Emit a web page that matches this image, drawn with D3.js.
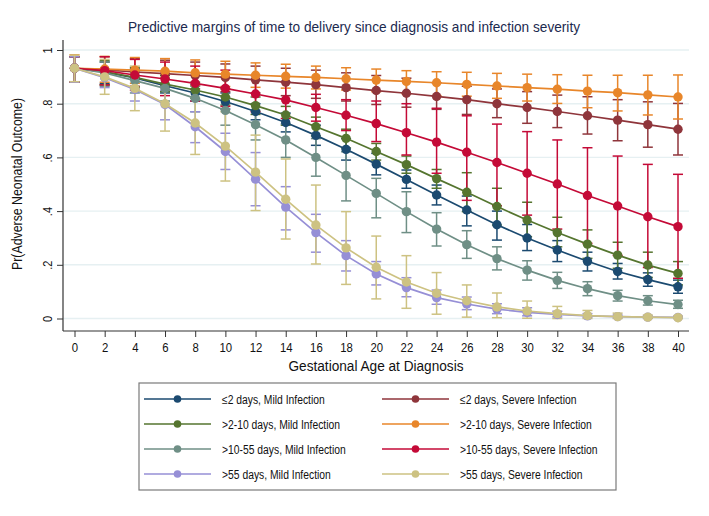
<!DOCTYPE html>
<html><head><meta charset="utf-8">
<script src="https://cdn.jsdelivr.net/npm/d3@7"></script>
<style>
html,body{margin:0;padding:0;background:#fff;}
svg{display:block;}
text{font-family:"Liberation Sans",Arial,Helvetica,sans-serif;}
</style></head>
<body>
<svg id="chart" width="709" height="516"></svg>
<script>
// ---------- DATA ----------
const gestAge = [0,2,4,6,8,10,12,14,16,18,20,22,24,26,28,30,32,34,36,38,40];
const yTickValues = [0,0.2,0.4,0.6,0.8,1];
const yTickLabels = ["0",".2",".4",".6",".8","1"];

// <=2 days, Mild Infection
const le2Mild   = [0.932,0.918,0.896,0.867,0.840,0.808,0.771,0.730,0.682,0.630,0.575,0.518,0.460,0.404,0.349,0.300,0.255,0.213,0.175,0.145,0.118];
const le2MildLo = [0.880,0.875,0.860,0.840,0.810,0.780,0.740,0.695,0.645,0.590,0.535,0.485,0.423,0.345,0.292,0.253,0.212,0.177,0.147,0.120,0.094];
const le2MildHi = [0.975,0.955,0.930,0.895,0.870,0.840,0.800,0.765,0.720,0.670,0.615,0.553,0.497,0.456,0.400,0.350,0.290,0.247,0.205,0.170,0.143];
// <=2 days, Severe Infection
const le2Sev    = [0.932,0.926,0.918,0.912,0.905,0.898,0.889,0.880,0.871,0.860,0.849,0.839,0.827,0.815,0.800,0.786,0.771,0.755,0.739,0.722,0.705];
const le2SevLo  = [0.880,0.870,0.865,0.860,0.855,0.845,0.840,0.830,0.820,0.810,0.797,0.787,0.779,0.760,0.748,0.727,0.711,0.687,0.662,0.638,0.609];
const le2SevHi  = [0.975,0.975,0.968,0.962,0.955,0.948,0.940,0.932,0.925,0.915,0.905,0.895,0.878,0.865,0.855,0.845,0.832,0.826,0.815,0.807,0.801];
// >2-10 days, Mild Infection
const d2to10Mild   = [0.932,0.919,0.898,0.873,0.851,0.825,0.793,0.758,0.714,0.671,0.622,0.573,0.521,0.470,0.417,0.367,0.320,0.277,0.236,0.199,0.168];
const d2to10MildLo = [0.880,0.870,0.860,0.845,0.820,0.795,0.760,0.720,0.680,0.635,0.590,0.541,0.485,0.398,0.348,0.305,0.267,0.224,0.187,0.153,0.125];
const d2to10MildHi = [0.975,0.960,0.935,0.905,0.880,0.855,0.825,0.790,0.750,0.705,0.652,0.605,0.555,0.543,0.485,0.433,0.377,0.330,0.284,0.247,0.212];
// >2-10 days, Severe Infection
const d2to10Sev   = [0.932,0.929,0.925,0.921,0.915,0.910,0.906,0.902,0.898,0.893,0.888,0.883,0.878,0.872,0.866,0.860,0.854,0.847,0.841,0.833,0.825];
const d2to10SevLo = [0.880,0.880,0.876,0.872,0.868,0.864,0.861,0.858,0.855,0.851,0.845,0.837,0.830,0.828,0.820,0.810,0.801,0.785,0.773,0.758,0.743];
const d2to10SevHi = [0.982,0.976,0.972,0.968,0.963,0.958,0.952,0.947,0.940,0.934,0.929,0.923,0.919,0.917,0.913,0.910,0.908,0.906,0.906,0.906,0.907];
// >10-55 days, Mild Infection
const d10to55Mild   = [0.932,0.915,0.886,0.857,0.820,0.775,0.722,0.665,0.600,0.533,0.466,0.398,0.333,0.275,0.223,0.180,0.142,0.111,0.085,0.066,0.052];
const d10to55MildLo = [0.880,0.865,0.840,0.810,0.770,0.720,0.665,0.600,0.530,0.438,0.375,0.320,0.270,0.224,0.181,0.143,0.112,0.085,0.065,0.050,0.038];
const d10to55MildHi = [0.975,0.955,0.925,0.895,0.865,0.825,0.775,0.725,0.670,0.621,0.522,0.472,0.394,0.327,0.267,0.215,0.172,0.137,0.105,0.085,0.068];
// >10-55 days, Severe Infection
const d10to55Sev   = [0.932,0.923,0.907,0.892,0.876,0.857,0.836,0.814,0.786,0.757,0.726,0.692,0.657,0.619,0.581,0.541,0.501,0.458,0.419,0.379,0.342];
const d10to55SevLo = [0.880,0.870,0.850,0.830,0.810,0.790,0.770,0.745,0.735,0.700,0.659,0.609,0.541,0.440,0.420,0.385,0.333,0.280,0.235,0.190,0.150];
const d10to55SevHi = [0.975,0.975,0.965,0.955,0.940,0.925,0.905,0.880,0.835,0.815,0.810,0.800,0.783,0.755,0.724,0.696,0.665,0.636,0.605,0.574,0.537];
// >55 days, Mild Infection
const gt55Mild   = [0.932,0.897,0.853,0.797,0.714,0.622,0.519,0.415,0.320,0.234,0.166,0.115,0.078,0.054,0.035,0.023,0.015,0.010,0.007,0.005,0.004];
const gt55MildLo = [0.880,0.860,0.810,0.740,0.655,0.555,0.420,0.330,0.247,0.177,0.125,0.081,0.053,0.033,0.018,0.010,0.006,0.004,0.002,0.001,0.001];
const gt55MildHi = [0.975,0.930,0.890,0.850,0.770,0.690,0.618,0.491,0.388,0.290,0.212,0.152,0.106,0.080,0.055,0.040,0.027,0.018,0.013,0.010,0.008];
// >55 days, Severe Infection
const gt55Sev   = [0.932,0.900,0.857,0.800,0.728,0.642,0.545,0.444,0.348,0.263,0.191,0.136,0.094,0.066,0.043,0.028,0.018,0.011,0.007,0.005,0.003];
const gt55SevLo = [0.882,0.835,0.774,0.698,0.611,0.512,0.402,0.296,0.203,0.127,0.073,0.038,0.016,0.005,0.003,0.001,0.000,0.000,0.000,0.000,0.000];
const gt55SevHi = [0.981,0.965,0.940,0.900,0.845,0.770,0.683,0.594,0.497,0.398,0.307,0.234,0.171,0.125,0.095,0.065,0.045,0.030,0.020,0.013,0.009];

const seriesNames = ["\u22642 days, Mild Infection","\u22642 days, Severe Infection",
  ">2-10 days, Mild Infection",">2-10 days, Severe Infection",
  ">10-55 days, Mild Infection",">10-55 days, Severe Infection",
  ">55 days, Mild Infection",">55 days, Severe Infection"];
const seriesColors = ["#1b4a70","#8f353b","#55752f","#e8862a","#6f8f86","#c40a37","#968fd6","#cdc282"];

const seriesVals = [le2Mild,le2Sev,d2to10Mild,d2to10Sev,d10to55Mild,d10to55Sev,gt55Mild,gt55Sev];
const seriesLo   = [le2MildLo,le2SevLo,d2to10MildLo,d2to10SevLo,d10to55MildLo,d10to55SevLo,gt55MildLo,gt55SevLo];
const seriesHi   = [le2MildHi,le2SevHi,d2to10MildHi,d2to10SevHi,d10to55MildHi,d10to55SevHi,gt55MildHi,gt55SevHi];

const series = seriesNames.map((name,i)=>({
  name, color: seriesColors[i],
  pts: gestAge.map((g,j)=>({x:g, v:seriesVals[i][j], lo:seriesLo[i][j], hi:seriesHi[i][j]}))
}));

// ---------- LAYOUT ----------
const svg = d3.select("#chart");
const x = d3.scaleLinear().domain([0,40]).range([74.5,678]);
const y = d3.scaleLinear().domain([0,1]).range([318.5,50]);
const plotLeft = 63, plotRight = 689, plotTop = 40, plotBottom = 331;
const NARROW = 0.84;
function narrow(sel, target){
  sel.each(function(){
    const w = this.getComputedTextLength();
    const t = target != null ? target : w*NARROW;
    d3.select(this).attr("textLength",t).attr("lengthAdjust","spacingAndGlyphs");
  });
}

// gridlines
svg.append("g").selectAll("line").data(yTickValues).join("line")
  .attr("x1",plotLeft).attr("x2",plotRight)
  .attr("y1",d=>y(d)).attr("y2",d=>y(d))
  .attr("stroke","#e6f0f2").attr("stroke-width",1.4);

// title
svg.append("text").attr("x",354).attr("y",32).attr("text-anchor","middle")
  .attr("font-size",14.5).attr("fill","#1c2a4f")
  .text("Predictive margins of time to delivery since diagnosis and infection severity")
  .call(narrow, 452);

// y axis
const yAxis = svg.append("g").attr("transform",`translate(${plotLeft},0)`)
  .call(d3.axisLeft(y).tickValues(yTickValues).tickFormat((d,i)=>yTickLabels[i]).tickSize(6).tickPadding(4));
yAxis.select(".domain").remove();
yAxis.selectAll(".tick line").attr("stroke","#333").attr("stroke-width",1);
yAxis.selectAll(".tick text").attr("font-size",13).attr("fill","#111")
  .attr("text-anchor","middle").attr("x",0).attr("dy",0)
  .attr("transform","translate(-16,0) rotate(-90)").attr("y",4.5)
  .call(narrow);
svg.append("line").attr("x1",plotLeft).attr("x2",plotLeft).attr("y1",plotTop).attr("y2",plotBottom)
  .attr("stroke","#333").attr("stroke-width",1.2);

// x axis
const xAxis = svg.append("g").attr("transform",`translate(0,${plotBottom})`)
  .call(d3.axisBottom(x).tickValues(gestAge).tickFormat(d3.format("d")).tickSize(6).tickPadding(5));
xAxis.select(".domain").remove();
xAxis.selectAll(".tick line").attr("stroke","#333").attr("stroke-width",1);
xAxis.selectAll(".tick text").attr("font-size",13.5).attr("fill","#111").call(narrow);
svg.append("line").attr("x1",plotLeft).attr("x2",plotRight).attr("y1",plotBottom).attr("y2",plotBottom)
  .attr("stroke","#333").attr("stroke-width",1.2);

// axis titles
svg.append("text").attr("x",376).attr("y",371).attr("text-anchor","middle")
  .attr("font-size",14).attr("fill","#111").text("Gestational Age at Diagnosis").call(narrow, 175);
svg.append("text").attr("transform","translate(22,184) rotate(-90)").attr("text-anchor","middle")
  .attr("font-size",14).attr("fill","#111").text("Pr(Adverse Neonatal Outcome)").call(narrow, 172);

// error bars (drawn first)
const capW = 5;
const ciG = svg.append("g");
series.forEach(s=>{
  const g = ciG.append("g").attr("stroke",s.color).attr("stroke-width",1.5);
  g.selectAll("line.v").data(s.pts).join("line").attr("class","v")
    .attr("x1",d=>x(d.x)).attr("x2",d=>x(d.x)).attr("y1",d=>y(d.lo)).attr("y2",d=>y(d.hi));
  g.selectAll("line.t").data(s.pts).join("line").attr("class","t")
    .attr("x1",d=>x(d.x)-capW).attr("x2",d=>x(d.x)+capW).attr("y1",d=>y(d.hi)).attr("y2",d=>y(d.hi));
  g.selectAll("line.b").data(s.pts).join("line").attr("class","b")
    .attr("x1",d=>x(d.x)-capW).attr("x2",d=>x(d.x)+capW).attr("y1",d=>y(d.lo)).attr("y2",d=>y(d.lo));
});

// lines + markers
const lineGen = d3.line().x(d=>x(d.x)).y(d=>y(d.v));
series.forEach(s=>{
  const g = svg.append("g");
  g.append("path").attr("d",lineGen(s.pts)).attr("fill","none")
    .attr("stroke",s.color).attr("stroke-width",1.7);
  g.selectAll("circle").data(s.pts).join("circle")
    .attr("cx",d=>x(d.x)).attr("cy",d=>y(d.v)).attr("r",4.7).attr("fill",s.color);
});

// legend
const legX = 139, legY = 383, legW = 477, legH = 107;
svg.append("rect").attr("x",legX).attr("y",legY).attr("width",legW).attr("height",legH)
  .attr("fill","#fff").attr("stroke","#7a7a7a").attr("stroke-width",1.2);
const colX = [144, 382];
const rowY = [399, 424, 449, 474];
series.forEach((s,i)=>{
  const col = i%2, row = Math.floor(i/2);
  const lx = colX[col], ly = rowY[row];
  const g = svg.append("g");
  g.append("line").attr("x1",lx).attr("x2",lx+67).attr("y1",ly).attr("y2",ly)
    .attr("stroke",s.color).attr("stroke-width",1.7);
  g.append("circle").attr("cx",lx+33.5).attr("cy",ly).attr("r",3.8).attr("fill",s.color);
  g.append("text").attr("x",lx+78).attr("y",ly+4.5).attr("font-size",12.3).attr("fill","#111")
    .text(s.name).call(narrow);
});
</script>
</body></html>
